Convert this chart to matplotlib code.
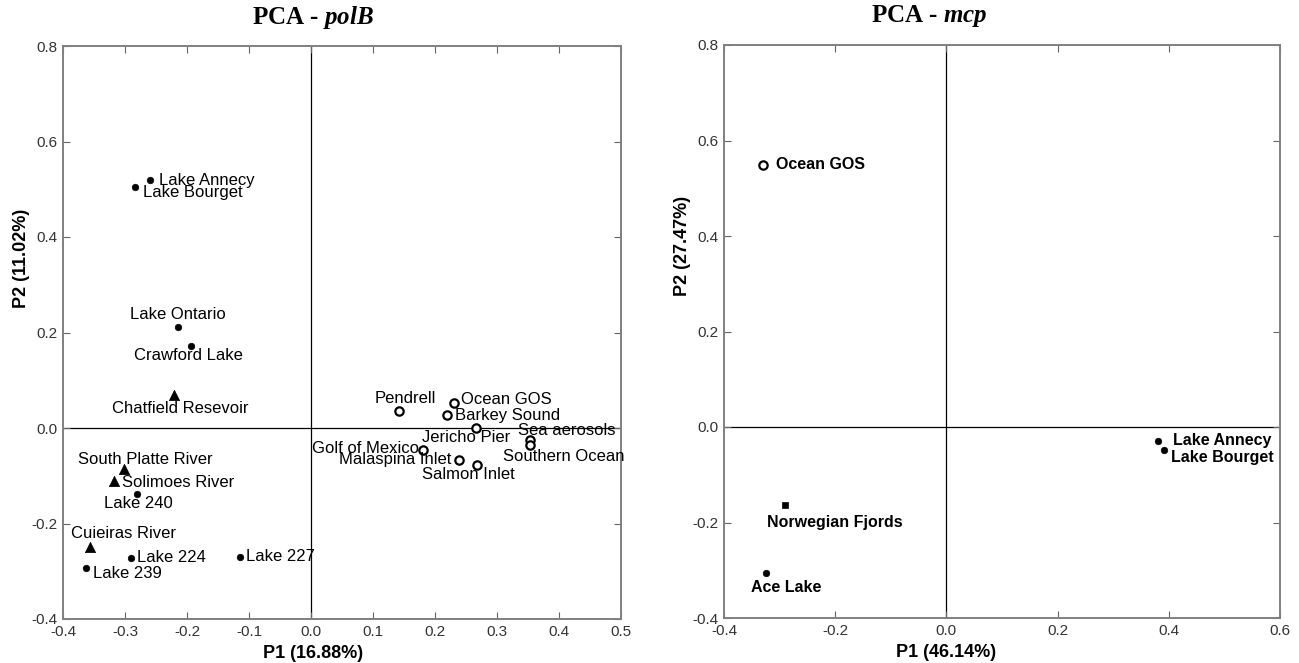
import numpy as np
import matplotlib
matplotlib.use("Agg")
import matplotlib.pyplot as plt

plt.rcParams['font.family'] = ['Liberation Sans', 'DejaVu Sans']
plt.rcParams['mathtext.fontset'] = 'custom'
plt.rcParams['mathtext.rm'] = 'Liberation Serif:bold'
plt.rcParams['mathtext.it'] = 'Liberation Serif:italic:bold'
plt.rcParams['mathtext.bf'] = 'Liberation Serif:bold'

# ===== polB data =====
polb_names = ["Lake Annecy", "Lake Bourget", "Lake Ontario", "Crawford Lake",
              "Chatfield Resevoir", "Pendrell", "Ocean GOS", "Barkey Sound",
              "Jericho Pier", "Sea aerosols", "Southern Ocean", "Golf of Mexico",
              "Malaspina Inlet", "Salmon Inlet", "South Platte River",
              "Solimoes River", "Lake 240", "Cuieiras River", "Lake 224",
              "Lake 227", "Lake 239"]
polb_p1 = [-0.260, -0.284, -0.215, -0.194, -0.221, 0.142, 0.231, 0.219,
           0.266, 0.354, 0.354, 0.180, 0.238, 0.267, -0.301, -0.317,
           -0.280, -0.356, -0.290, -0.114, -0.363]
polb_p2 = [0.519, 0.505, 0.212, 0.172, 0.069, 0.036, 0.052, 0.027,
           0.001, -0.025, -0.036, -0.046, -0.067, -0.077, -0.086, -0.112,
           -0.138, -0.250, -0.272, -0.270, -0.293]
# lake / marine / river
polb_group = ["lake", "lake", "lake", "lake", "river", "marine", "marine", "marine",
              "marine", "marine", "marine", "marine", "marine", "marine", "river",
              "river", "lake", "river", "lake", "lake", "lake"]

# ===== mcp data =====
mcp_names = ["Ocean GOS", "Lake Annecy", "Lake Bourget", "Norwegian Fjords", "Ace Lake"]
mcp_p1 = [-0.330, 0.381, 0.391, -0.291, -0.325]
mcp_p2 = [0.549, -0.029, -0.048, -0.163, -0.305]
mcp_group = ["marine", "lake", "lake", "fjord", "lake"]

# ===== label placement (offset pixels, ha) =====
polb_lab = {
    "Lake Annecy": (9, 0, "left"), "Lake Bourget": (8, -6, "left"),
    "Lake Ontario": (0, 12, "center"), "Crawford Lake": (-2, -10, "center"),
    "Chatfield Resevoir": (6, -13, "center"), "Pendrell": (6, 12, "center"),
    "Ocean GOS": (7, 4, "left"), "Barkey Sound": (8, 0, "left"),
    "Jericho Pier": (-10, -10, "center"), "Sea aerosols": (-12, 9, "left"),
    "Southern Ocean": (-27, -11, "left"), "Golf of Mexico": (-4, 1, "right"),
    "Malaspina Inlet": (-7, 0, "right"), "Salmon Inlet": (-8, -10, "center"),
    "South Platte River": (21, 10, "center"), "Solimoes River": (8, -1, "left"),
    "Lake 240": (1, -10, "center"), "Cuieiras River": (33, 14, "center"),
    "Lake 224": (6, 0, "left"), "Lake 227": (6, 0, "left"),
    "Lake 239": (7, -6, "left"),
}
mcp_lab = {
    "Ocean GOS": (13, 0, "left"), "Lake Annecy": (15, 0, "left"),
    "Lake Bourget": (7, -8, "left"), "Norwegian Fjords": (50, -18, "center"),
    "Ace Lake": (20, -15, "center"),
}

styles = {
    "lake": dict(marker="o", s=22, facecolors="black", edgecolors="black", linewidths=0.5),
    "marine": dict(marker="o", s=36, facecolors="white", edgecolors="black", linewidths=1.6),
    "river": dict(marker="^", s=55, facecolors="black", edgecolors="black", linewidths=0.5),
    "fjord": dict(marker="s", s=22, facecolors="black", edgecolors="black", linewidths=0.5),
}

fig = plt.figure(figsize=(12.99, 6.63), dpi=100)
W, H = 1299, 663
ax1 = fig.add_axes([63 / W, 1 - 619 / H, (621 - 63) / W, (619 - 46) / H])
ax2 = fig.add_axes([724 / W, 1 - 618 / H, (1280 - 724) / W, (618 - 45) / H])

fmt = matplotlib.ticker.FuncFormatter(lambda v, p: ("%.1f" % v).replace("-0.0", "0.0"))


def draw(ax, names, p1, p2, groups, labs, xlim, xticks, bold, title, xlab, ylab, tx, ly):
    ax.axhline(0, color="black", lw=0.9, zorder=1)
    ax.axvline(0, color="black", lw=0.9, zorder=1)
    p1 = np.array(p1)
    p2 = np.array(p2)
    groups = np.array(groups)
    for g in ["lake", "marine", "river", "fjord"]:
        m = groups == g
        if m.any():
            ax.scatter(p1[m], p2[m], zorder=3, **styles[g])
    for n, x, y in zip(names, p1, p2):
        dx, dy, ha = labs[n]
        ax.annotate(n, (x, y), xytext=(dx, dy), textcoords="offset pixels",
                    ha=ha, va="center", fontsize=11.5 if bold else 12,
                    fontweight="bold" if bold else "normal", color="black", zorder=4)
    ax.set_xlim(*xlim)
    ax.set_ylim(-0.4, 0.8)
    ax.set_xticks(xticks)
    ax.set_yticks(np.arange(-0.4, 0.81, 0.2))
    ax.xaxis.set_major_formatter(fmt)
    ax.yaxis.set_major_formatter(fmt)
    ax.tick_params(direction="in", length=5, width=0.8, color="#666666",
                   top=True, right=True, labelsize=11, labelcolor="#333333", pad=4)
    for sp in ax.spines.values():
        sp.set_color("#808080")
        sp.set_linewidth(1.4)
    ax.text(tx, 1.05, title, transform=ax.transAxes, ha="center", va="center",
            fontsize=18, fontfamily="Liberation Serif", fontweight="bold")
    ax.set_xlabel(xlab, fontsize=13, fontweight="bold")
    ax.xaxis.set_label_coords(tx, -0.046)
    ax.set_ylabel(ylab, fontsize=13, fontweight="bold")
    ax.yaxis.set_label_coords(-0.06, ly)


draw(ax1, polb_names, polb_p1, polb_p2, polb_group, polb_lab,
     (-0.4, 0.5), np.arange(-0.4, 0.51, 0.1), False,
     r"PCA - $\mathit{polB}$", "P1 (16.88%)", "P2 (11.02%)", 0.448, 0.63)
draw(ax2, mcp_names, mcp_p1, mcp_p2, mcp_group, mcp_lab,
     (-0.4, 0.6), np.arange(-0.4, 0.61, 0.2), True,
     r"PCA - $\mathit{mcp}$", "P1 (46.14%)", "P2 (27.47%)", 0.37, 0.65)
ax2.xaxis.set_label_coords(0.4, -0.046)

fig.savefig("out.png", dpi=100)
